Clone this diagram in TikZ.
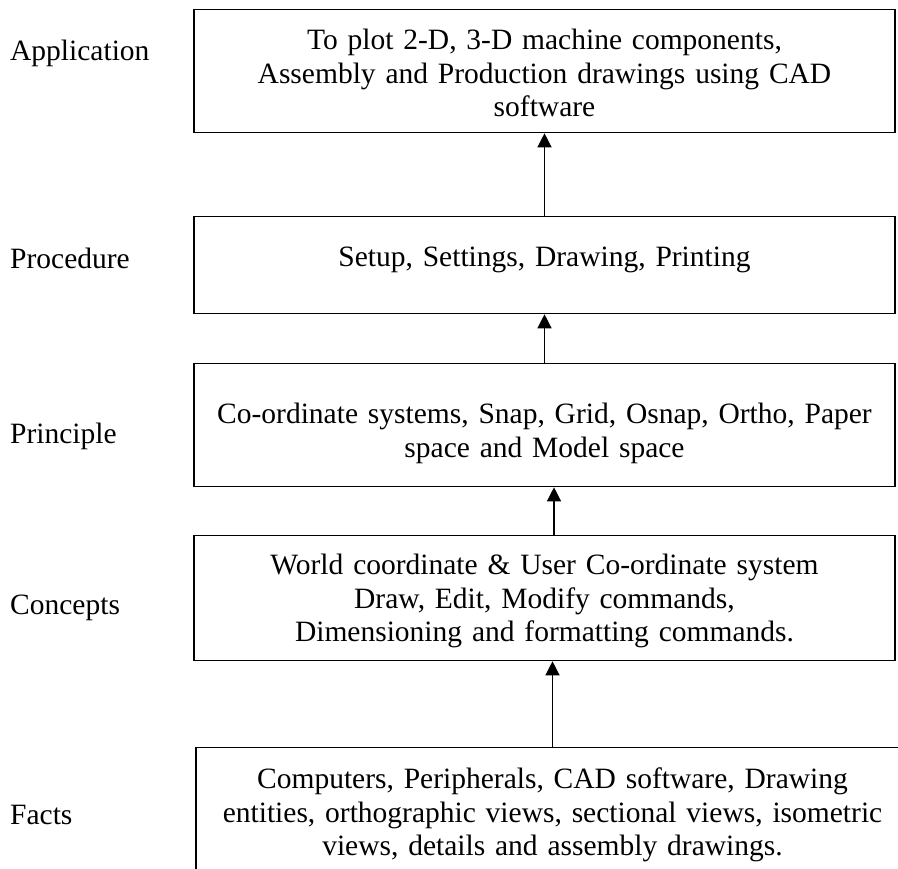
\documentclass[tikz,border=0pt]{standalone}
\usepackage{fontspec}
\setmainfont{Liberation Serif}
\usetikzlibrary{arrows.meta}
\begin{document}
\begin{tikzpicture}[x=1pt,y=-1pt,
  every node/.style={font=\fontsize{29.5}{33.5}\selectfont, inner sep=0pt},
  box/.style={draw, line width=1.3pt, align=center, text width=680pt, inner xsep=10.5pt, inner ysep=0pt, anchor=north},
  lab/.style={anchor=base west},
  arr/.style={line width=1.3pt, -{Triangle[width=14pt,length=14pt]}}]
\useasboundingbox (0,0) rectangle (898,869);
\clip (0,0) rectangle (898,869);
\node[box, text height=40pt, text depth=83pt] (b1) at (544.5,9) {To plot 2-D, 3-D machine components,\\Assembly and Production drawings using CAD\\software};
\node[box, text height=50pt, text depth=47pt] (b2) at (544.5,216) {Setup, Settings, Drawing, Printing};
\node[box, text height=60pt, text depth=63pt] (b3) at (544.5,363) {Co-ordinate systems, Snap, Grid, Osnap, Ortho, Paper\\space and Model space};
\node[box, text height=39pt, text depth=86pt] (b4) at (544.5,535) {World coordinate \& User Co-ordinate system\\Draw, Edit, Modify commands,\\Dimensioning and formatting commands.};
\node[box, text width=692pt, text height=41pt, text depth=130pt] (b5) at (552.5,747) {Computers, Peripherals, CAD software, Drawing\\entities, orthographic views, sectional views, isometric\\views, details and assembly drawings.};
\node[lab] (l1) at (10,61) {Application};
\node[lab] (l2) at (10,269) {Procedure};
\node[lab] (l3) at (10,443) {Principle};
\node[lab] (l4) at (10,614) {Concepts};
\node[lab] (l5) at (10,824) {Facts};
\draw[arr] (b2.north) -- (b1.south);
\draw[arr] (b3.north) -- (b2.south);
\draw[arr] ([xshift=9.5pt]b4.north) -- ([xshift=9.5pt]b3.south);
\draw[arr] (b5.north) -- (b5.north |- b4.south);
\end{tikzpicture}
\end{document}
